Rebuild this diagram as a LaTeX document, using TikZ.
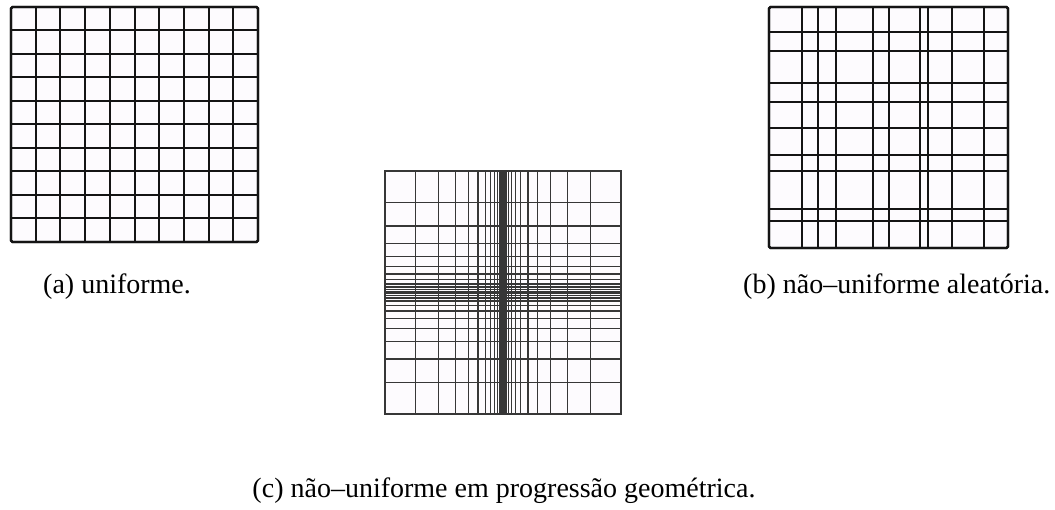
\documentclass[tikz,border=0pt]{standalone}
\usepackage{fontspec}
\setmainfont{Liberation Serif}
\definecolor{cellfill}{RGB}{253,251,254}
\definecolor{gline}{RGB}{20,20,20}
\definecolor{cline}{RGB}{55,55,55}
\tikzset{
  gridab/.style={draw=gline, line width=2pt},
  framab/.style={draw=gline, line width=2.4pt, rounded corners=1.5pt, fill=cellfill},
  gridc/.style={draw=cline, line width=1.3pt},
  framc/.style={draw=cline, line width=1.5pt, fill=cellfill},
  caption/.style={anchor=base west, inner sep=0pt, font=\fontsize{28}{32}\selectfont}
}
\begin{document}
\begin{tikzpicture}[x=1pt,y=-1pt]
\useasboundingbox (0,0) rectangle (1055,510);
% (a) uniform grid
\path[framab] (11,7) rectangle (258,242);
\foreach \i in {1,...,9} {
  \draw[gridab] (11+\i*24.7,7) -- (11+\i*24.7,242);
  \draw[gridab] (11,7+\i*23.5) -- (258,7+\i*23.5);
}
\draw[framab, fill=none] (11,7) rectangle (258,242);
% (b) random grid
\path[framab] (769,7) rectangle (1008,248);
\foreach \x in {802,818,836,873,889,920,928,952,984} {
  \draw[gridab] (\x,7) -- (\x,248);
}
\foreach \y in {32,51,83,102,128,155,171,209,221} {
  \draw[gridab] (769,\y) -- (1008,\y);
}
\draw[framab, fill=none] (769,7) rectangle (1008,248);
% (c) geometric grid
\path[framc] (385,171) rectangle (621,414);
\foreach \k in {1,...,12} {
  \pgfmathsetmacro\dx{118*(1-0.75^\k)/(1-0.75^12)}
  \pgfmathsetmacro\dy{121.5*(1-0.75^\k)/(1-0.75^12)}
  \draw[gridc] (385+\dx,171) -- (385+\dx,414);
  \draw[gridc] (621-\dx,171) -- (621-\dx,414);
  \draw[gridc] (385,171+\dy) -- (621,171+\dy);
  \draw[gridc] (385,414-\dy) -- (621,414-\dy);
}
\draw[framc, fill=none] (385,171) rectangle (621,414);
% captions
\node[caption] (capa) at (43,294) {(a) uniforme.};
\node[caption] (capb) at (743,294) {(b) não–uniforme aleatória.};
\node[caption, anchor=base] (capc) at (504,497) {(c) não–uniforme em progressão geométrica.};
\end{tikzpicture}
\end{document}
